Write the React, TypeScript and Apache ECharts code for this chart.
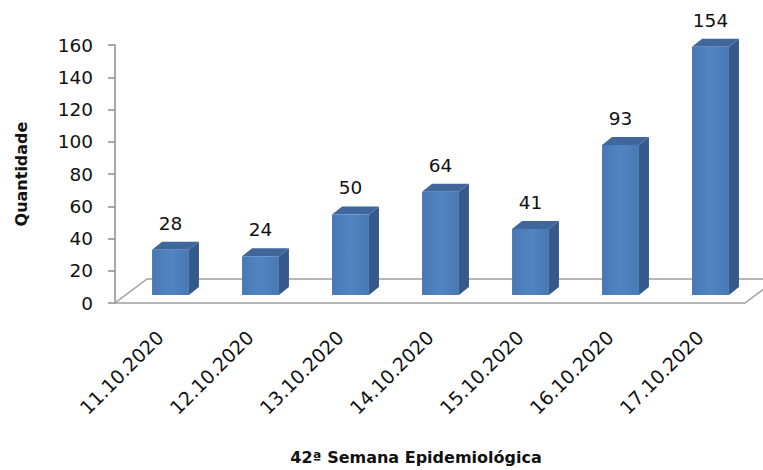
import React, { useEffect, useRef } from "react";
import * as echarts from "echarts";

const categories = [
  "11.10.2020",
  "12.10.2020",
  "13.10.2020",
  "14.10.2020",
  "15.10.2020",
  "16.10.2020",
  "17.10.2020",
];
const values = [28, 24, 50, 64, 41, 93, 154];
const yMin = 0;
const yMax = 160;
const yInterval = 20;
const yTitle = "Quantidade";
const xTitle = "42ª Semana Epidemiológica";

const FONT = "DejaVu Sans, sans-serif";
const FLOOR_DX = 32;
const FLOOR_DY = 24;
const SHIFT_X = 10.5;
const SHIFT_Y = 8;
const BAR_DX = 10;
const BAR_DY = 8;

export default function App() {
  const ref = useRef<HTMLDivElement>(null);
  useEffect(() => {
    const chart = echarts.init(ref.current as HTMLDivElement, null, { renderer: "svg" });
    chart.setOption({
      animation: false,
      backgroundColor: "#ffffff",
      grid: { left: 115, right: 18, top: 45, bottom: 164 },
      xAxis: {
        type: "category",
        data: categories,
        axisLine: { show: false },
        axisTick: { show: false },
        axisLabel: {
          rotate: 45,
          margin: 31,
          fontFamily: FONT,
          fontSize: 19,
          color: "#111",
        },
        name: xTitle,
        nameLocation: "middle",
        nameGap: 146,
        nameTextStyle: {
          fontFamily: FONT,
          fontSize: 16,
          fontWeight: "bold",
          color: "#111",
          padding: [0, 28, 0, 0],
        },
      },
      yAxis: {
        type: "value",
        min: yMin,
        max: yMax,
        interval: yInterval,
        axisLine: { show: true, lineStyle: { color: "#8c8c8c", width: 1.5 } },
        axisTick: { show: true, length: 7, lineStyle: { color: "#8c8c8c", width: 1.5 } },
        splitLine: { show: false },
        axisLabel: { margin: 22, fontFamily: FONT, fontSize: 18.5, color: "#111" },
        name: yTitle,
        nameLocation: "middle",
        nameRotate: 90,
        nameGap: 86,
        nameTextStyle: { fontFamily: FONT, fontSize: 16, fontWeight: "bold", color: "#111" },
      },
      series: [
        {
          type: "custom",
          coordinateSystem: "cartesian2d",
          silent: true,
          clip: false,
          z: 1,
          data: [[0, 0]],
          renderItem: (params: any) => {
            const cs = params.coordSys;
            const x0 = cs.x;
            const x1 = cs.x + cs.width;
            const y = cs.y + cs.height;
            return {
              type: "polygon",
              shape: {
                points: [
                  [x0, y],
                  [x1, y],
                  [x1 + FLOOR_DX, y - FLOOR_DY],
                  [x0 + FLOOR_DX, y - FLOOR_DY],
                ],
              },
              style: { fill: "none", stroke: "#a0a0a0", lineWidth: 1.5 },
            };
          },
        },
        {
          type: "custom",
          coordinateSystem: "cartesian2d",
          clip: false,
          z: 2,
          data: values.map((v, i) => [i, v]),
          renderItem: (params: any, api: any) => {
            const idx = api.value(0);
            const v = api.value(1);
            const top = api.coord([idx, v]);
            const base = api.coord([idx, 0]);
            const bw = api.size([1, 0])[0];
            const w = bw * 0.41;
            const cx = base[0] + SHIFT_X;
            const xl = cx - w / 2;
            const xr = cx + w / 2;
            const yb = base[1] - SHIFT_Y;
            const yt = top[1] - SHIFT_Y;
            return {
              type: "group",
              children: [
                {
                  type: "polygon",
                  shape: {
                    points: [
                      [xr, yt],
                      [xr + BAR_DX, yt - BAR_DY],
                      [xr + BAR_DX, yb - BAR_DY],
                      [xr, yb],
                    ],
                  },
                  style: { fill: "#34598a" },
                },
                {
                  type: "polygon",
                  shape: {
                    points: [
                      [xl, yt],
                      [xl + BAR_DX, yt - BAR_DY],
                      [xr + BAR_DX, yt - BAR_DY],
                      [xr, yt],
                    ],
                  },
                  style: { fill: "#3f679c" },
                },
                {
                  type: "rect",
                  shape: { x: xl, y: yt, width: w, height: yb - yt },
                  style: {
                    fill: new echarts.graphic.LinearGradient(0, 0, 1, 0, [
                      { offset: 0, color: "#4878b3" },
                      { offset: 0.5, color: "#5185c2" },
                      { offset: 1, color: "#4878b3" },
                    ]),
                  },
                },
                {
                  type: "text",
                  x: cx,
                  y: yt - BAR_DY - 9,
                  style: {
                    text: String(v),
                    align: "center",
                    verticalAlign: "bottom",
                    fontFamily: FONT,
                    fontSize: 18.5,
                    fill: "#111",
                  },
                },
              ],
            };
          },
        },
      ],
    });
    return () => chart.dispose();
  }, []);
  return (
    <div
      ref={ref}
      style={{ position: "fixed", left: 0, top: 0, width: 763, height: 470 }}
    />
  );
}
